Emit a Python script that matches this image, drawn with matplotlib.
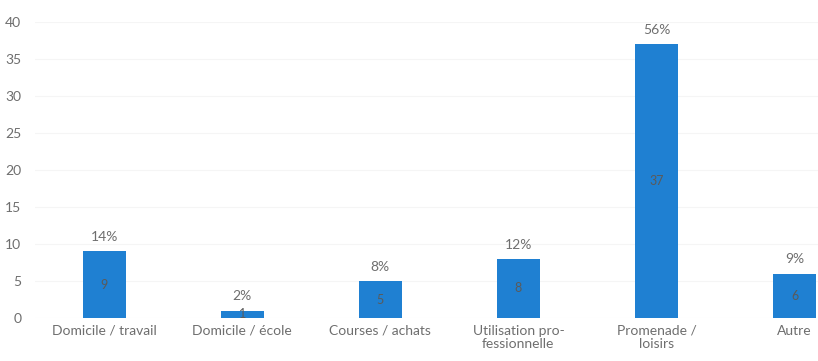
import matplotlib
matplotlib.use("Agg")
from matplotlib import pyplot as plt

# trips by purpose
categories = ["Domicile / travail", "Domicile / école", "Courses / achats",
              "Utilisation pro-\nfessionnelle", "Promenade /\nloisirs", "Autre"]
counts = [9, 1, 5, 8, 37, 6]
shares = ["14%", "2%", "8%", "12%", "56%", "9%"]
yticks = [0, 5, 10, 15, 20, 25, 30, 35, 40]

BLUE = "#1f80d2"
GREY = "#6e6e6e"

plt.rcParams["font.family"] = ["Lato", "DejaVu Sans"]

fig = plt.figure(figsize=(8.18, 3.61), dpi=100)
ax = fig.add_axes([0.043, 0.119, 0.957, 0.82])

x = list(range(len(categories)))
bars = ax.bar(x, counts, width=0.31, color=BLUE, zorder=2)

for b, n, s in zip(bars, counts, shares):
    cx = b.get_x() + b.get_width() / 2
    ax.text(cx, n / 2, str(n), ha="center", va="center",
            fontsize=9, color="#5a5a5a", zorder=3)
    ax.annotate(s, (cx, n), xytext=(0, 6), textcoords="offset points",
                ha="center", va="bottom", fontsize=10, color=GREY)

ax.set_ylim(0, 40)
ax.set_xlim(-0.5, 5.17)
ax.set_yticks(yticks)
ax.set_xticks(x)
ax.set_xticklabels(categories, fontsize=10, color=GREY, linespacing=1.15)
ax.tick_params(axis="y", labelsize=10, labelcolor=GREY, length=0, pad=10)
ax.tick_params(axis="x", length=0, pad=5)
ax.grid(axis="y", color="#f5f5f5", linewidth=0.8, zorder=0)
for side in ax.spines.values():
    side.set_visible(False)

fig.savefig("out.png", dpi=100)
